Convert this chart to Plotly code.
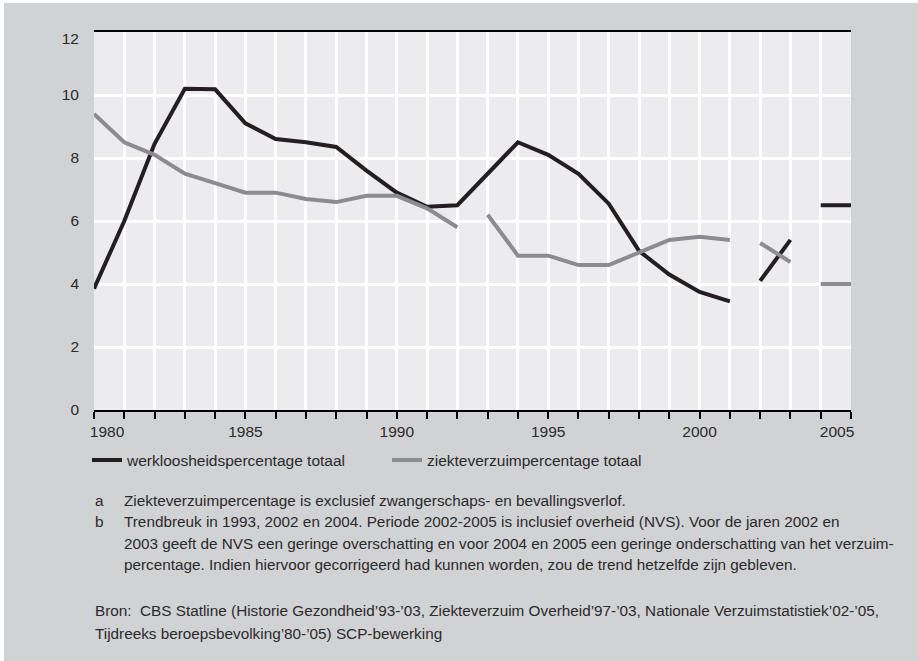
import plotly.graph_objects as go

# ---------------- data ----------------
years = list(range(1980, 2006))
werkloos = [3.85, 6.0, 8.45, 10.2, 10.18, 9.1, 8.6, 8.5, 8.35, 7.6, 6.9, 6.45, 6.5,
            7.5, 8.5, 8.1, 7.5, 6.55, 5.05, 4.3, 3.75, 3.45,
            4.1, 5.4,
            6.5, 6.5]
verzuim = [9.4, 8.5, 8.1, 7.5, 7.2, 6.9, 6.9, 6.7, 6.6, 6.8, 6.8, 6.4, 5.8,
           6.2, 4.9, 4.9, 4.6, 4.6, 5.0, 5.4, 5.5, 5.4,
           5.3, 4.7,
           4.0, 4.0]
werkloos_breaks = [2002, 2004]          # trend breaks (new segment starts)
verzuim_breaks = [1993, 2002, 2004]
series_names = ["werkloosheidspercentage totaal", "ziekteverzuimpercentage totaal"]
x_tick_labels = ["1980", "1985", "1990", "1995", "2000", "2005"]
y_tick_labels = ["0", "2", "4", "6", "8", "10", "12"]

notes = [
    ("a", ["Ziekteverzuimpercentage is exclusief zwangerschaps- en bevallingsverlof."]),
    ("b", ["Trendbreuk in 1993, 2002 en 2004. Periode 2002-2005 is inclusief overheid (NVS). Voor de jaren 2002 en",
           "2003 geeft de NVS een geringe overschatting en voor 2004 en 2005 een geringe onderschatting van het verzuim-",
           "percentage. Indien hiervoor gecorrigeerd had kunnen worden, zou de trend hetzelfde zijn gebleven."]),
]
source_lines = [
    "Bron:  CBS Statline (Historie Gezondheid\u201993-\u201903, Ziekteverzuim Overheid\u201997-\u201903, Nationale Verzuimstatistiek\u201902-\u201905,",
    "Tijdreeks beroepsbevolking\u201980-\u201905) SCP-bewerking",
]

# ---------------- style ----------------
W, H = 918, 661
L, R, T, B = 94, 67, 32, 251
PW, PH = W - L - R, H - T - B
BG = "#d1d2d4"
PLOT_BG = "#ececee"
COLORS = ["#231f20", "#8c8c8e"]
TXT = "#2b2a2b"
FONT = "Liberation Sans, Arial, sans-serif"


def px2x(px):
    return (px - L) / PW


def py2y(py):
    return (H - B - py) / PH


def segments(xs, ys, breaks):
    cuts = [xs[0]] + breaks + [xs[-1] + 1]
    out = []
    for a, b in zip(cuts[:-1], cuts[1:]):
        idx = [i for i, x in enumerate(xs) if a <= x < b]
        out.append(([xs[i] for i in idx], [ys[i] for i in idx]))
    return out


fig = go.Figure()
for k, (vals, brks) in enumerate([(werkloos, werkloos_breaks), (verzuim, verzuim_breaks)]):
    for j, (sx, sy) in enumerate(segments(years, vals, brks)):
        fig.add_trace(go.Scatter(
            x=sx, y=sy, mode="lines", name=series_names[k],
            legendgroup=series_names[k], showlegend=(j == 0),
            line=dict(color=COLORS[k], width=4),
            hoverinfo="x+y",
        ))

# tick label positions: end labels kept inside the plot box (as in the original)
xt_vals = [int(t) for t in x_tick_labels]
xt_pos = list(xt_vals)
xt_pos[0] = xt_vals[0] + 13 / (PW / 25)
xt_pos[-1] = xt_vals[-1] - 14 / (PW / 25)
yt_vals = [int(t) for t in y_tick_labels]
yt_pos = list(yt_vals)
yt_pos[-1] = yt_vals[-1] - 7 / (PH / 12)

fig.update_layout(
    width=W, height=H,
    margin=dict(l=L, r=R, t=T, b=B, autoexpand=False),
    paper_bgcolor=BG, plot_bgcolor=PLOT_BG,
    font=dict(family=FONT, size=15, color=TXT),
    showlegend=True,
    legend=dict(
        orientation="h", x=px2x(87), xanchor="left", y=py2y(460.5), yanchor="middle",
        bgcolor="rgba(0,0,0,0)", font=dict(family=FONT, size=15.5, color=TXT),
        entrywidth=255, entrywidthmode="pixels", itemwidth=30,
        tracegroupgap=0, traceorder="normal",
    ),
    xaxis=dict(
        range=[1980, 2005], tickmode="array", tickvals=xt_pos, ticktext=x_tick_labels,
        ticks="", showgrid=False, zeroline=False,
        showline=True, linecolor="#000000", linewidth=1.5, mirror=True,
        tickfont=dict(family=FONT, size=15.5, color=TXT), ticklabelstandoff=7,
        minor=dict(tickmode="array", tickvals=years, ticks="outside", ticklen=7,
                   tickwidth=1.5, tickcolor="#000000",
                   showgrid=True, gridcolor="#ffffff", gridwidth=2.5),
        fixedrange=True,
    ),
    yaxis=dict(
        range=[0, 12], tickmode="array", tickvals=yt_pos, ticktext=y_tick_labels,
        ticks="", showgrid=False, zeroline=False, showline=False, ticklabelstandoff=14,
        tickfont=dict(family=FONT, size=15.5, color=TXT), fixedrange=True,
        minor=dict(tickmode="array", tickvals=yt_vals, ticks="",
                   showgrid=True, gridcolor="#ffffff", gridwidth=2.5),
    ),
)

# notes
NOTE_SIZE = 15.3
ann = []
line_py = [500, 521.5, 543, 564.5]
row = 0
for letter, lines in notes:
    ann.append(dict(text=letter, x=px2x(93), y=py2y(line_py[row]), xref="paper", yref="paper",
                    xanchor="left", yanchor="middle", showarrow=False,
                    font=dict(family=FONT, size=NOTE_SIZE, color=TXT)))
    for ln in lines:
        ann.append(dict(text=ln, x=px2x(122), y=py2y(line_py[row]), xref="paper", yref="paper",
                        xanchor="left", yanchor="middle", showarrow=False,
                        font=dict(family=FONT, size=NOTE_SIZE, color=TXT)))
        row += 1
for i, ln in enumerate(source_lines):
    ann.append(dict(text=ln, x=px2x(93), y=py2y(610.5 + 22.5 * i), xref="paper", yref="paper",
                    xanchor="left", yanchor="middle", showarrow=False,
                    font=dict(family=FONT, size=NOTE_SIZE, color=TXT)))
fig.update_layout(annotations=ann)

# thin white frame edge at top and left
fig.add_shape(type="rect", xref="paper", yref="paper", x0=px2x(0), x1=px2x(W), y0=py2y(0), y1=py2y(3),
              fillcolor="#ffffff", line=dict(width=0), layer="above")
fig.add_shape(type="rect", xref="paper", yref="paper", x0=px2x(0), x1=px2x(4), y0=py2y(0), y1=py2y(H),
              fillcolor="#ffffff", line=dict(width=0), layer="above")

fig.write_html(
    "out.html",
    config={"displayModeBar": False},
    post_script="document.body.style.margin='0px';document.body.style.background='%s';" % BG,
)
